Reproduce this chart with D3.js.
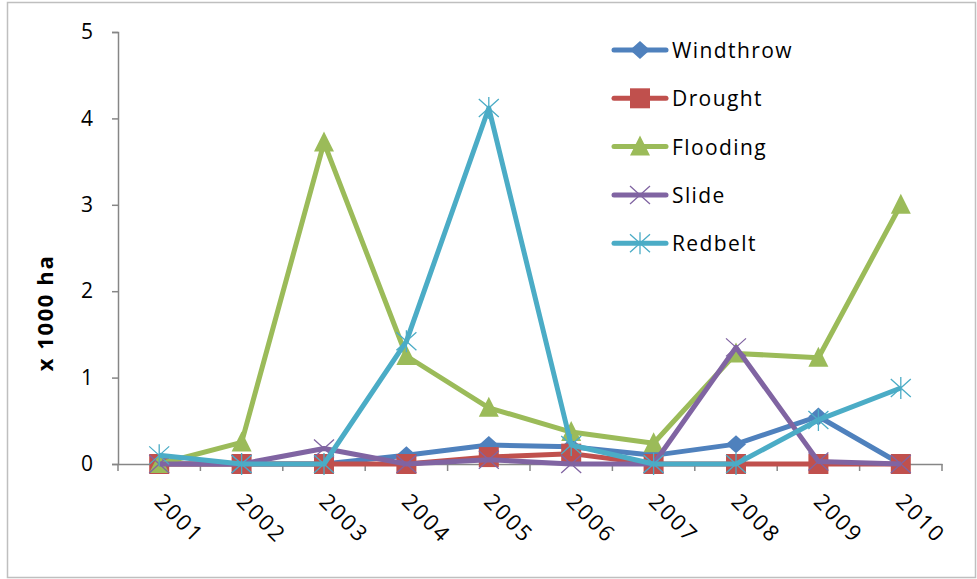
<!DOCTYPE html>
<html><head><meta charset="utf-8">
<script src="https://cdn.jsdelivr.net/npm/d3@7"></script>
<style>body{margin:0;background:#fff}svg{display:block}</style>
</head><body>
<script>
const years = ["2001","2002","2003","2004","2005","2006","2007","2008","2009","2010"];
const windthrow = [0, 0, 0, 0.1, 0.22, 0.2, 0.1, 0.23, 0.55, 0];
const drought   = [0, 0, 0, 0, 0.08, 0.12, 0, 0, 0, 0];
const flooding  = [0, 0.25, 3.72, 1.25, 0.65, 0.37, 0.24, 1.28, 1.23, 3.0];
const slide     = [0, 0, 0.18, 0, 0.05, 0, 0, 1.35, 0.03, 0];
const redbelt   = [0.1, 0, 0, 1.42, 4.12, 0.22, 0, 0, 0.51, 0.88];
const yTicks = [0,1,2,3,4,5];
const seriesNames = ["Windthrow","Drought","Flooding","Slide","Redbelt"];
const yLabel = "x 1000 ha";

(function(){
const series = [
  {name:"Windthrow", values:windthrow, color:"#4F81BD", marker:"diamond"},
  {name:"Drought", values:drought, color:"#C0504D", marker:"square"},
  {name:"Flooding", values:flooding, color:"#9BBB59", marker:"triangle"},
  {name:"Slide", values:slide, color:"#8064A2", marker:"x"},
  {name:"Redbelt", values:redbelt, color:"#4BACC6", marker:"star"}
];

const W=977,H=579;
const svg=d3.select("body").append("svg").attr("width",W).attr("height",H);
svg.append("rect").attr("x",7.5).attr("y",2.5).attr("width",W-9).attr("height",H-4)
  .attr("fill","none").attr("stroke","#bfbfbf").attr("stroke-width",1.5);

const pL=118,pR=942,pT=32,pB=464;
const x=d3.scaleBand().domain(years).range([pL,pR]);
const y=d3.scaleLinear().domain([0,5]).range([pB,pT]);
const font="'Open Sans','Noto Sans',sans-serif";

// y axis
const yAx=svg.append("g").attr("transform",`translate(${pL},0)`)
  .call(d3.axisLeft(y).tickValues(yTicks).tickFormat(d3.format("d")).tickSize(6).tickPadding(19));
yAx.select(".domain").attr("stroke","#868686").attr("stroke-width",1.5);
yAx.selectAll(".tick line").attr("stroke","#868686").attr("stroke-width",1.5);
yAx.selectAll("text").attr("font-family",font).attr("font-size",21).attr("fill","#000");

// x axis
const xAx=svg.append("g").attr("transform",`translate(0,${pB})`)
  .call(d3.axisBottom(x).tickSize(0).tickSizeOuter(0));
xAx.select(".domain").attr("stroke","#868686").attr("stroke-width",1.5);
xAx.selectAll(".tick line").remove();
xAx.selectAll(".tick text").attr("font-family",font).attr("font-size",22).attr("fill","#000")
  .attr("letter-spacing","2px")
  .attr("text-anchor","start").attr("dy",0).attr("y",0)
  .attr("transform","translate(-6,39) rotate(45)");
// category boundary ticks
const bounds=years.map(d=>x(d)).concat([pR]);
svg.append("g").selectAll("line").data(bounds).join("line")
  .attr("x1",d=>d).attr("x2",d=>d).attr("y1",pB).attr("y2",pB+7)
  .attr("stroke","#868686").attr("stroke-width",1.5);

// y label
svg.append("text").attr("transform",`translate(53,313) rotate(-90)`)
  .attr("text-anchor","middle").attr("font-family",font).attr("font-size",22)
  .attr("letter-spacing","1.6px")
  .attr("font-weight","bold").text(yLabel);

const cx=d=>x(d)+x.bandwidth()/2;
const line=d3.line().x((d,i)=>cx(years[i])).y(d=>y(d));

function drawMarker(g,type,color){
  if(type==="diamond"){
    g.append("path").attr("d","M0,-9L10,0L0,9L-10,0Z").attr("fill",color);
  } else if(type==="square"){
    g.append("rect").attr("x",-10).attr("y",-10).attr("width",20).attr("height",20).attr("fill",color);
  } else if(type==="triangle"){
    g.append("path").attr("d","M0,-11L10,9L-10,9Z").attr("fill",color);
  } else if(type==="x"){
    g.append("path").attr("d","M-10,-9L10,9M-10,9L10,-9").attr("stroke",color).attr("stroke-width",1.3).attr("fill","none");
  } else if(type==="star"){
    g.append("path").attr("d","M-10,-9L10,9M-10,9L10,-9M0,-11L0,11").attr("stroke",color).attr("stroke-width",1.3).attr("fill","none");
  }
}

series.forEach(s=>{
  const g=svg.append("g");
  g.append("path").datum(s.values).attr("d",line).attr("fill","none")
    .attr("stroke",s.color).attr("stroke-width",5).attr("stroke-linejoin","round");
  s.values.forEach((v,i)=>{
    const m=g.append("g").attr("transform",`translate(${cx(years[i])},${y(v)})`);
    drawMarker(m,s.marker,s.color);
  });
});

// legend
const leg=svg.append("g");
series.forEach((s,i)=>{
  const ly=50+i*48.3;
  const g=leg.append("g").attr("transform",`translate(0,${ly})`);
  g.append("line").attr("x1",614).attr("x2",666).attr("y1",0).attr("y2",0)
    .attr("stroke",s.color).attr("stroke-width",5).attr("stroke-linecap","round");
  const m=g.append("g").attr("transform","translate(640,0)");
  drawMarker(m,s.marker,s.color);
  g.append("text").attr("x",672).attr("y",8).attr("font-family",font).attr("font-size",21)
    .attr("letter-spacing","1.4px").attr("fill","#000").text(seriesNames[i]);
});
})();
</script>
</body></html>
